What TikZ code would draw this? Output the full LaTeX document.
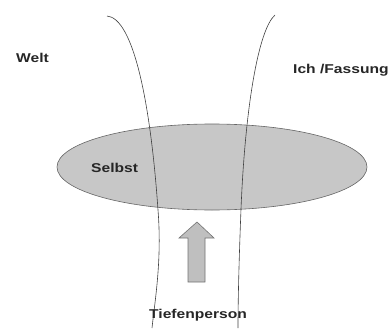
\documentclass[tikz,border=0pt]{standalone}
\usepackage{fontspec}
\setmainfont{Liberation Sans}
\usetikzlibrary{shapes.geometric}
\begin{document}
\begin{tikzpicture}[x=1pt,y=-1pt,
  lbl/.style={font=\fontsize{12.8}{14}\selectfont\bfseries, text=black!85, inner sep=0pt, anchor=base west},
  line/.style={draw=black!75, line width=0.6pt}]
\useasboundingbox (0,0) rectangle (390,329);
\node[ellipse, draw=black!60, line width=0.6pt, fill=black!22, minimum width=310pt, minimum height=86pt, inner sep=0pt] (selbstell) at (212,167) {};
\coordinate (l0) at (107,16);
\coordinate (l1) at (158,210);
\coordinate (l2) at (152,328);
\coordinate (r0) at (275,15);
\coordinate (r1) at (241,209);
\coordinate (r2) at (238,328);
\draw[line] (l0) .. controls (132,18) and (150,95) .. (l1) .. controls (162,260) and (155,300) .. (l2);
\draw[line] (r0) .. controls (258,30) and (245,110) .. (r1) .. controls (239,260) and (238,300) .. (r2);
\path[draw=black!55, line width=0.6pt, fill=black!25] (197,222) coordinate (tip) -- (214,238) -- (205,238) -- (205,282) -- (188,282) -- (188,238) -- (179,238) -- cycle;
\node[lbl] (welt) at (16,62) {\scalebox{1.22}[1]{Welt}};
\node[lbl] (ich) at (293,73) {\scalebox{1.22}[1]{Ich /Fassung}};
\node[lbl] (selbst) at (91,172) {\scalebox{1.22}[1]{Selbst}};
\node[lbl] (tief) at (149,318) {\scalebox{1.22}[1]{Tiefenperson}};
\end{tikzpicture}
\end{document}
